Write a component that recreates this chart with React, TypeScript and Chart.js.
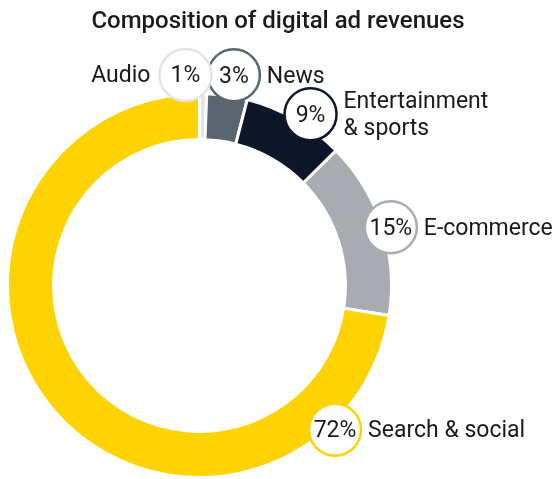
import React, { useEffect, useRef } from "react";
import { Chart, ArcElement, DoughnutController } from "chart.js";

Chart.register(ArcElement, DoughnutController);

const chartTitle = "Composition of digital ad revenues";
const categoryLines: string[][] = [["Audio"], ["News"], ["Entertainment", "& sports"], ["E-commerce"], ["Search & social"]];
const shareLabels = ["1%", "3%", "9%", "15%", "72%"];
const shareValues = [0.6, 3.4, 8.6, 14.9, 72.5];
const sliceColors = ["#e4e4e4", "#5b6570", "#0d1729", "#a8acb1", "#ffd300"];

// callout layout (annotation placement, not data)
const calloutNudgeDeg = [-4.9, 1.0, 3.1, 0.9, -92.7];
const calloutRadialOffset = [19, 21, 12, 8, 6];
const calloutSide = ["left", "right", "right", "right", "right"];

const FONT = 'Roboto, "Noto Sans", sans-serif';
const TEXT = "#1a1a1a";

const calloutPlugin = {
  id: "callouts",
  afterDatasetsDraw(chart: any) {
    const ctx = chart.ctx as CanvasRenderingContext2D;
    const meta = chart.getDatasetMeta(0);
    ctx.save();
    ctx.fillStyle = TEXT;
    ctx.font = `500 24px ${FONT}`;
    ctx.textAlign = "center";
    ctx.textBaseline = "alphabetic";
    ctx.fillText(chartTitle, chart.width / 2, 28);

    const R = 26;
    for (let i = meta.data.length - 1; i >= 0; i--) {
      const arc = meta.data[i];
      const p = arc.getProps(["x", "y", "startAngle", "endAngle", "outerRadius"], true);
      const mid = (p.startAngle + p.endAngle) / 2 + (calloutNudgeDeg[i] * Math.PI) / 180;
      const d = p.outerRadius + calloutRadialOffset[i];
      const cx = p.x + Math.cos(mid) * d;
      const cy = p.y + Math.sin(mid) * d;

      ctx.beginPath();
      ctx.arc(cx, cy, R, 0, Math.PI * 2);
      ctx.fillStyle = "#ffffff";
      ctx.fill();
      ctx.lineWidth = 2.5;
      ctx.strokeStyle = sliceColors[i];
      ctx.stroke();

      ctx.fillStyle = TEXT;
      ctx.font = `23px ${FONT}`;
      ctx.textAlign = "center";
      ctx.fillText(shareLabels[i], cx, cy + 7.5);

      const lines = categoryLines[i];
      const lh = 27;
      const left = calloutSide[i] === "left";
      ctx.textAlign = left ? "right" : "left";
      const tx = left ? cx - R - 9 : cx + R + 7;
      const by = cy + 7.5 - (lh * (lines.length - 1)) / 2;
      lines.forEach((ln, k) => ctx.fillText(ln, tx, by + k * lh));
    }
    ctx.restore();
  },
};

export default function App() {
  const ref = useRef<HTMLCanvasElement | null>(null);
  useEffect(() => {
    document.body.style.margin = "0";
    const chart = new Chart(ref.current as HTMLCanvasElement, {
      type: "doughnut",
      data: {
        labels: categoryLines.map((l) => l.join(" ")),
        datasets: [
          {
            data: shareValues,
            backgroundColor: sliceColors,
            borderColor: "#ffffff",
            borderWidth: 3,
          },
        ],
      },
      options: {
        responsive: false,
        animation: false,
        cutout: "76%",
        rotation: 0,
        layout: { padding: { left: 6, right: 163, top: 92, bottom: 0 } },
        plugins: { legend: { display: false }, tooltip: { enabled: false } },
      },
      plugins: [calloutPlugin],
    } as any);
    return () => chart.destroy();
  }, []);
  return <canvas ref={ref} width={556} height={479} style={{ display: "block" }} />;
}
